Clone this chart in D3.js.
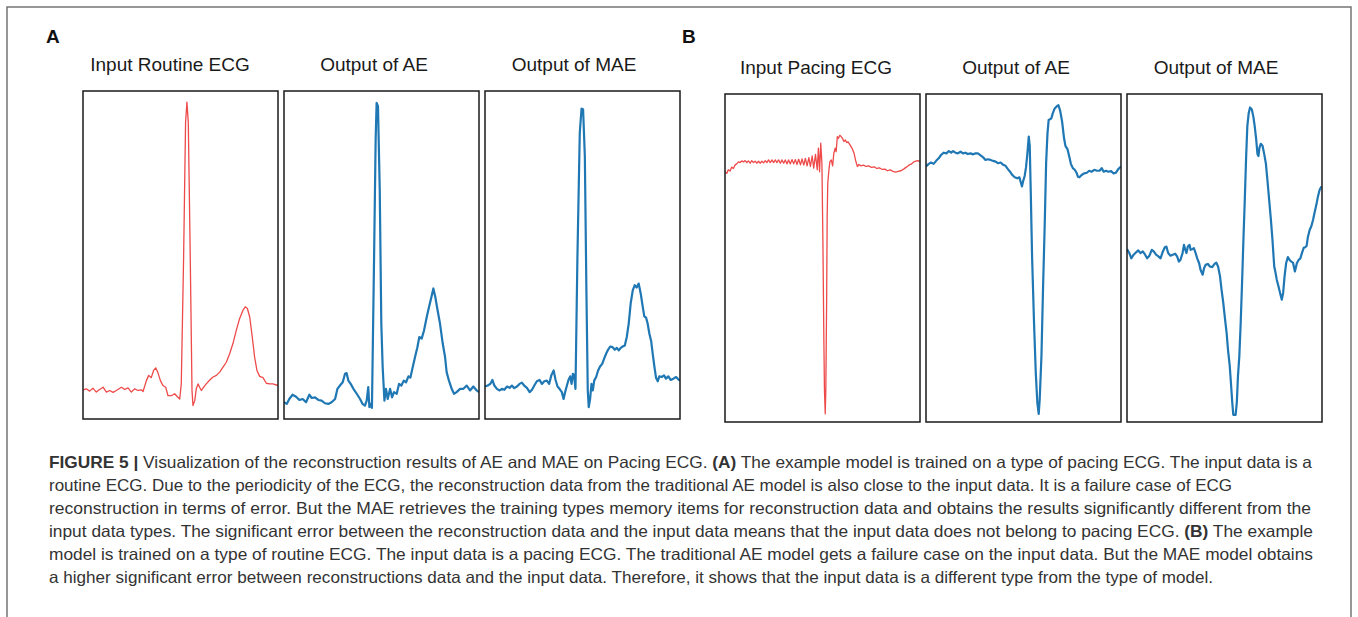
<!DOCTYPE html>
<html>
<head>
<meta charset="utf-8">
<script src="https://cdn.jsdelivr.net/npm/d3@7"></script>
<style>
  html, body { margin: 0; padding: 0; background: #ffffff; }
  svg { display: block; }
</style>
</head>
<body>
<svg id="chart" width="1358" height="617"></svg>
<script>
// ---------- DATA (time in % of window, amplitude in % of panel range) ----------
const groupLabels = ["A", "B"];
const titlesA = ["Input Routine ECG", "Output of AE", "Output of MAE"];
const titlesB = ["Input Pacing ECG", "Output of AE", "Output of MAE"];

const routineInput = [
  [0,8.9],[1.7,9.2],[3.4,8.5],[5.1,9.4],[6.8,8.2],[8.5,9.0],[10.3,9.7],[12.0,8.2],[13.7,8.7],[15.4,8.1],
  [17.1,8.7],[19.7,9.7],[21.4,9.0],[23.1,9.5],[24.8,8.2],[26.5,9.2],[28.2,8.7],[29.9,8.9],[30.8,8.4],
  [32.5,11.7],[33.7,13.3],[35.0,12.6],[36.2,14.8],[37.3,15.6],[38.5,14.0],[39.7,11.7],[41.0,10.2],
  [42.4,9.7],[43.6,7.1],[45.3,7.1],[47.0,7.7],[48.4,6.8],[49.6,6.1],[50.4,10.7],[51.6,49.5],[52.6,90.3],
  [53.3,96.6],[54.0,90.3],[55.0,49.5],[55.9,8.7],[56.4,4.1],[57.3,5.6],[58.1,9.2],[59.0,10.7],[59.8,9.7],
  [60.7,8.7],[61.9,9.7],[63.2,10.7],[65.0,11.9],[66.7,12.8],[68.4,13.3],[70.1,14.3],[71.8,15.8],
  [73.5,17.3],[75.2,19.9],[76.9,23.0],[78.6,27.0],[80.3,30.6],[82.1,33.2],[83.2,34.2],[84.3,33.7],
  [85.5,31.1],[86.8,25.0],[88.0,18.9],[89.2,14.8],[90.6,13.0],[92.3,12.6],[94.0,10.9],[95.7,10.7],
  [97.4,10.7],[100,10.2]
];
const routineAE = [
  [0,5.1],[1.4,4.6],[2.7,6.1],[4.4,7.4],[6.2,6.8],[7.9,5.8],[9.6,6.1],[11.3,5.1],[13.0,7.4],[14.2,6.4],
  [15.9,6.6],[17.6,5.8],[19.3,5.6],[21.0,4.8],[22.7,4.6],[24.4,5.1],[26.2,6.1],[27.4,9.2],[28.7,10.2],
  [30.1,11.2],[31.3,13.8],[32.1,14.0],[33.0,11.7],[34.2,10.7],[35.6,9.2],[37.3,7.7],[39.0,6.1],[40.3,4.6],
  [41.5,4.1],[42.4,5.6],[43.2,9.7],[43.8,3.6],[44.4,4.6],[45.1,3.4],[46.2,49.5],[47.0,85.2],[47.5,96.4],
  [48.2,95.4],[49.1,69.9],[49.9,29.1],[50.6,15.8],[51.5,5.6],[52.3,9.2],[53.2,6.1],[54.4,9.2],[55.4,6.6],
  [56.4,8.2],[57.8,7.7],[59.0,10.7],[60.2,10.2],[61.4,11.7],[62.6,11.2],[63.8,13.0],[64.8,12.6],
  [66.0,15.8],[67.2,18.9],[68.4,21.9],[69.4,25.0],[70.6,24.5],[71.8,27.0],[73.2,31.1],[74.4,34.2],
  [75.4,36.7],[76.6,39.8],[77.6,37.2],[78.6,33.7],[80.0,29.1],[81.4,23.0],[82.6,18.9],[83.4,14.3],
  [84.6,11.7],[86.0,9.2],[87.2,7.7],[88.5,8.2],[90.3,9.2],[92.0,9.2],[93.7,10.2],[95.4,8.7],[97.1,9.9],
  [98.8,8.7],[100,8.2]
];
const routineMAE = [
  [0,9.9],[1.4,10.2],[2.7,10.7],[3.8,11.9],[4.8,10.2],[6.1,9.2],[7.5,8.7],[8.7,9.2],[9.9,8.9],[11.3,9.9],
  [12.6,9.5],[13.8,10.2],[15.0,9.4],[16.4,9.9],[17.7,10.7],[18.9,11.1],[20.1,10.2],[21.5,9.5],[22.9,8.2],
  [24.1,8.9],[25.3,10.2],[26.6,11.5],[28.0,11.9],[29.2,10.7],[30.4,11.5],[31.7,11.7],[32.9,10.7],
  [34.0,13.3],[35.2,14.8],[36.2,11.9],[37.2,9.9],[38.2,9.2],[39.4,8.2],[40.3,6.1],[41.1,8.2],[42.0,10.2],
  [42.8,11.9],[43.7,13.0],[44.4,10.7],[45.1,13.8],[45.7,13.3],[46.4,9.2],[47.4,49.5],[48.6,87.2],
  [49.5,94.6],[50.3,94.4],[51.2,80.1],[52.0,39.3],[52.7,8.7],[53.2,3.6],[53.9,6.1],[54.6,10.7],[55.3,8.7],
  [56.0,11.7],[57.0,12.8],[58.0,14.8],[59.0,16.0],[60.1,16.8],[61.1,18.4],[62.1,19.9],[63.1,21.1],
  [64.2,22.1],[65.4,21.9],[66.6,21.1],[67.6,21.7],[68.6,20.9],[69.6,21.7],[70.6,22.1],[71.7,22.4],
  [72.7,25.0],[73.7,29.1],[74.7,35.2],[75.8,39.3],[76.8,40.8],[77.8,40.1],[78.8,41.3],[79.9,38.1],
  [80.9,34.2],[81.7,31.3],[82.6,30.9],[83.4,29.1],[84.3,26.0],[85.2,23.8],[86.0,19.9],[86.9,15.8],
  [87.7,12.6],[88.6,11.5],[89.4,13.0],[90.6,12.8],[91.8,13.3],[92.8,12.3],[94.0,13.0],[95.2,11.9],
  [96.6,12.3],[98.0,12.8],[99.1,12.1],[100,11.7]
];
const pacingInput = [
  [0,76.3],[0.9,75.8],[1.7,76.9],[2.6,76.5],[3.4,77.7],[4.3,77.3],[5.2,78.4],[6.0,78.7],[6.9,79.3],
  [7.7,79.1],[8.6,79.6],[9.5,79.3],[10.3,79.7],[11.2,79.1],[12.0,79.6],[12.9,78.9],[13.7,79.7],[14.6,79.1],
  [15.5,79.5],[16.3,78.9],[17.2,79.5],[18.0,78.9],[18.9,79.5],[19.8,79.0],[20.6,79.7],[21.5,79.1],
  [22.3,79.9],[23.2,79.1],[24.1,79.9],[24.9,79.1],[25.8,79.9],[26.6,79.1],[27.5,79.9],[28.4,78.9],
  [29.2,79.9],[30.1,78.9],[30.9,79.9],[31.8,78.7],[32.6,79.9],[33.5,78.7],[34.4,80.0],[35.2,78.7],
  [36.1,80.0],[36.9,78.5],[37.8,80.1],[38.7,78.4],[39.5,80.2],[40.4,78.3],[41.2,80.4],[42.1,78.1],
  [43.0,80.6],[43.8,77.9],[44.7,81.1],[45.5,77.4],[46.4,81.6],[47.3,76.9],[47.9,83.5],[48.5,76.3],
  [49.1,85.0],[49.7,78.9],[50.2,55.5],[50.7,25.1],[51.0,9.8],[51.4,2.5],[51.7,9.8],[52.1,35.2],
  [52.4,62.6],[52.7,72.8],[53.3,76.9],[53.8,79.4],[54.5,79.9],[55.2,78.1],[55.8,81.9],[56.5,83.5],
  [57.0,82.4],[57.6,87.0],[58.2,86.5],[58.9,87.4],[59.6,87.0],[60.3,86.4],[61.0,85.5],[61.7,86.0],
  [62.4,85.2],[63.1,85.4],[64.1,84.5],[65.1,83.5],[66.2,81.9],[67.0,79.7],[67.9,77.9],[68.7,78.5],
  [69.6,78.1],[71.0,78.3],[72.3,77.9],[73.7,78.1],[75.1,77.6],[76.5,77.8],[77.8,77.3],[79.2,77.5],
  [80.6,77.0],[82.0,77.1],[83.3,76.6],[84.7,76.9],[86.1,76.4],[87.5,76.2],[88.8,76.4],[90.2,76.6],
  [91.6,77.1],[93.0,77.7],[94.3,78.3],[95.7,78.7],[97.1,79.4],[98.8,79.7],[100,79.4]
];
const pacingAE = [
  [0,77.9],[1.4,78.7],[2.6,79.1],[3.9,78.7],[5.3,79.7],[6.5,80.4],[7.7,81.4],[9.1,82.1],[10.5,81.9],
  [11.7,82.6],[12.9,82.1],[13.9,82.6],[15.1,82.1],[16.3,81.9],[17.7,82.4],[19.0,81.9],[20.2,82.1],
  [21.4,81.7],[22.8,81.9],[24.2,81.6],[25.4,81.9],[26.6,81.9],[28.0,81.3],[29.3,80.7],[30.5,79.9],
  [31.7,80.1],[33.1,79.9],[34.5,79.6],[35.7,79.4],[36.9,78.9],[38.3,79.1],[39.6,78.4],[40.8,78.1],
  [42.0,77.1],[43.1,76.3],[44.3,75.3],[45.5,74.6],[46.8,74.3],[47.9,74.6],[48.5,73.3],[49.2,71.8],
  [49.9,73.6],[50.6,75.0],[51.3,77.7],[52.0,81.9],[52.7,87.0],[53.2,84.2],[53.7,70.8],[54.4,50.5],
  [55.4,30.2],[56.3,14.9],[57.1,5.8],[57.8,2.5],[58.3,6.8],[59.2,20.0],[60.0,40.3],[60.9,60.6],
  [61.6,78.9],[62.3,88.0],[62.9,92.1],[63.6,92.3],[64.3,92.6],[65.0,94.1],[66.0,95.6],[67.1,96.3],
  [67.9,96.6],[68.8,94.9],[69.8,91.6],[70.8,86.5],[71.5,84.2],[72.6,83.1],[73.4,81.1],[74.3,78.7],
  [75.3,77.4],[76.3,76.9],[77.2,76.0],[77.9,74.8],[78.7,74.6],[79.8,75.3],[81.1,75.8],[82.5,76.0],
  [83.7,76.6],[84.9,76.3],[86.3,76.9],[87.7,76.6],[89.0,76.6],[90.1,77.4],[91.1,76.3],[92.3,76.6],
  [93.5,76.3],[94.9,76.5],[96.2,75.8],[97.4,76.0],[98.6,77.1],[100,77.9]
];
const pacingMAE = [
  [0,52.7],[1.2,51.5],[2.2,49.9],[3.4,51.0],[4.6,51.7],[5.8,52.3],[6.9,51.5],[8.1,52.0],[9.3,51.0],
  [10.3,49.9],[11.5,50.7],[12.7,52.5],[13.7,52.0],[14.9,51.0],[16.1,50.5],[17.2,49.9],[18.4,52.0],
  [19.4,53.3],[20.2,53.5],[21.1,51.5],[22.3,50.7],[23.5,51.0],[24.7,51.3],[25.7,50.5],[26.6,48.9],
  [27.4,49.4],[28.5,51.5],[29.2,54.0],[29.8,52.7],[30.5,51.5],[31.2,53.5],[32.1,54.0],[32.6,52.5],
  [33.4,52.7],[34.3,53.0],[35.2,51.5],[36.0,49.9],[37.0,48.4],[37.7,46.4],[38.8,44.9],[39.5,46.9],
  [40.3,47.9],[41.5,48.2],[42.5,47.4],[43.7,47.2],[44.9,48.2],[45.8,48.6],[46.7,47.4],[47.7,44.4],
  [48.5,40.3],[49.4,36.2],[50.3,31.2],[51.1,27.1],[51.8,22.0],[52.7,17.0],[53.3,11.9],[54.0,5.8],
  [54.5,2.2],[55.7,2.2],[56.3,5.8],[56.9,13.9],[57.6,20.0],[58.3,30.2],[59.0,42.3],[59.7,55.5],
  [60.4,67.7],[61.1,80.9],[61.7,90.1],[62.4,94.1],[63.1,95.9],[64.0,95.3],[64.8,93.1],[65.5,90.1],
  [66.2,86.5],[66.9,81.7],[67.4,81.1],[67.9,83.5],[68.6,84.8],[69.5,84.2],[70.3,81.9],[71.2,78.9],
  [72.0,73.8],[72.9,67.7],[73.8,61.6],[74.6,55.5],[75.5,47.4],[76.2,45.4],[76.8,43.4],[77.7,41.3],
  [78.6,39.1],[79.4,37.3],[80.1,39.5],[80.8,44.4],[81.6,48.4],[82.5,50.3],[83.4,49.4],[84.2,48.9],
  [85.1,48.6],[86.1,45.9],[87.1,48.4],[88.0,49.4],[88.9,49.9],[89.7,51.5],[90.6,53.1],[91.4,53.3],
  [92.1,53.7],[92.8,56.5],[93.7,58.6],[94.5,59.6],[95.4,61.6],[96.2,63.9],[97.1,66.2],[97.9,68.7],
  [98.8,70.8],[99.5,71.6],[100,71.4]
];

const captionLines = [
  [["FIGURE 5 |", true], [" Visualization of the reconstruction results of AE and MAE on Pacing ECG. ", false], ["(A)", true], [" The example model is trained on a type of pacing ECG. The input data is a", false]],
  [["routine ECG. Due to the periodicity of the ECG, the reconstruction data from the traditional AE model is also close to the input data. It is a failure case of ECG", false]],
  [["reconstruction in terms of error. But the MAE retrieves the training types memory items for reconstruction data and obtains the results significantly different from the", false]],
  [["input data types. The significant error between the reconstruction data and the input data means that the input data does not belong to pacing ECG. ", false], ["(B)", true], [" The example", false]],
  [["model is trained on a type of routine ECG. The input data is a pacing ECG. The traditional AE model gets a failure case on the input data. But the MAE model obtains", false]],
  [["a higher significant error between reconstructions data and the input data. Therefore, it shows that the input data is a different type from the type of model.", false]]
];
const captionLineEnds = [1312, 1232, 1311, 1313, 1313, 1213];

// ---------- LAYOUT ----------
const svg = d3.select("#chart");
const FONT = "'Liberation Sans', Arial, Helvetica, sans-serif";

svg.append("rect").attr("x", 7).attr("y", 7).attr("width", 1344).attr("height", 640)
  .attr("fill", "none").attr("stroke", "#6b6b6b").attr("stroke-width", 1.4);

const panels = [
  {x0: 83,   x1: 278,  y0: 91, y1: 419, data: routineInput, color: "#ee4a4a", w: 1.3, title: titlesA[0], tx: 170},
  {x0: 284,  x1: 479,  y0: 91, y1: 419, data: routineAE,    color: "#1f77b4", w: 2.2, title: titlesA[1], tx: 374},
  {x0: 485,  x1: 680,  y0: 91, y1: 419, data: routineMAE,   color: "#1f77b4", w: 2.2, title: titlesA[2], tx: 574},
  {x0: 725,  x1: 920,  y0: 94, y1: 422, data: pacingInput,  color: "#ee4a4a", w: 1.3, title: titlesB[0], tx: 816},
  {x0: 926,  x1: 1121, y0: 94, y1: 422, data: pacingAE,     color: "#1f77b4", w: 2.2, title: titlesB[1], tx: 1016},
  {x0: 1127, x1: 1322, y0: 94, y1: 422, data: pacingMAE,    color: "#1f77b4", w: 2.2, title: titlesB[2], tx: 1216}
];

svg.append("text").attr("x", 46).attr("y", 43).text(groupLabels[0])
  .attr("font-family", FONT).attr("font-weight", "bold").attr("font-size", 19).attr("fill", "#111");
svg.append("text").attr("x", 682).attr("y", 43).text(groupLabels[1])
  .attr("font-family", FONT).attr("font-weight", "bold").attr("font-size", 19).attr("fill", "#111");

panels.forEach((p, i) => {
  const x = d3.scaleLinear().domain([0, 100]).range([p.x0, p.x1]);
  const y = d3.scaleLinear().domain([0, 100]).range([p.y1, p.y0]);
  const g = svg.append("g");
  const clipId = "clip" + i;
  svg.append("clipPath").attr("id", clipId).append("rect")
    .attr("x", p.x0).attr("y", p.y0).attr("width", p.x1 - p.x0).attr("height", p.y1 - p.y0);
  g.append("path").datum(p.data)
    .attr("clip-path", `url(#${clipId})`)
    .attr("d", d3.line().x(d => x(d[0])).y(d => y(d[1])))
    .attr("fill", "none").attr("stroke", p.color).attr("stroke-width", p.w)
    .attr("stroke-linejoin", "round");
  g.append("rect").attr("x", p.x0).attr("y", p.y0)
    .attr("width", p.x1 - p.x0).attr("height", p.y1 - p.y0)
    .attr("fill", "none").attr("stroke", "#1a1a1a").attr("stroke-width", 1.5);
  svg.append("text").attr("x", p.tx).attr("y", i < 3 ? 71 : 74)
    .attr("text-anchor", "middle").text(p.title)
    .attr("font-family", FONT).attr("font-size", 19).attr("fill", "#1a1a1a");
});

// ---------- CAPTION ----------
captionLines.forEach((parts, i) => {
  const t = svg.append("text").attr("x", 49).attr("y", 468 + i * 23)
    .attr("font-family", FONT).attr("font-size", 16.5).attr("fill", "#333")
    .attr("textLength", captionLineEnds[i] - 49).attr("lengthAdjust", "spacingAndGlyphs")
    .attr("xml:space", "preserve");
  parts.forEach(([s, b]) => {
    t.append("tspan").text(s).attr("font-weight", b ? "bold" : "normal");
  });
});
</script>
</body>
</html>
